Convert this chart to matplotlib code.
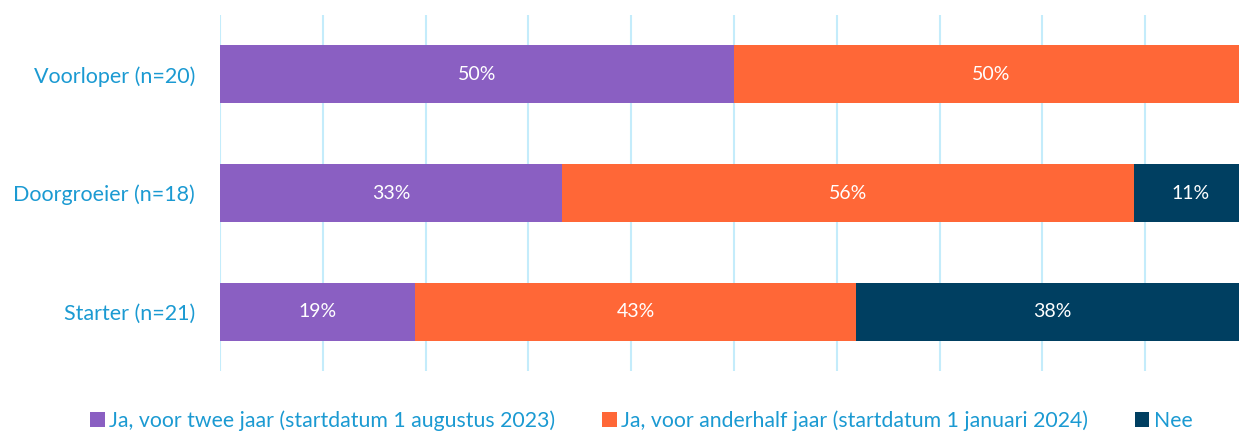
import matplotlib.pyplot as plt
import numpy as np

plt.rcParams['font.family'] = ['Lato', 'DejaVu Sans']

groups = ['Voorloper (n=20)', 'Doorgroeier (n=18)', 'Starter (n=21)']
series = ['Ja, voor twee jaar (startdatum 1 augustus 2023)',
          'Ja, voor anderhalf jaar (startdatum 1 januari 2024)',
          'Nee']
twee_jaar = [50.0, 33.3, 19.0]
anderhalf_jaar = [50.0, 55.6, 42.9]
nee = [0.0, 11.1, 38.1]

colors = ['#8a5fc2', '#ff6737', '#003f61']
text_blue = '#1b9ad2'

fig = plt.figure(figsize=(12.39, 4.32), dpi=100)
ax = fig.add_axes([220 / 1239, 61 / 432, 1028 / 1239, 356 / 432])

y = np.arange(len(groups))
left = np.zeros(len(groups))
for name, vals, col in zip(series, [twee_jaar, anderhalf_jaar, nee], colors):
    vals = np.array(vals)
    ax.barh(y, vals, left=left, height=0.49, color=col, label=name, zorder=3)
    for yi, l, v in zip(y, left, vals):
        if v > 0:
            ax.text(l + v / 2, yi, f'{v:.0f}%', ha='center', va='center',
                    color='white', fontsize=14, zorder=4)
    left += vals

ax.set_xlim(0, 100)
ax.set_ylim(2.5, -0.5)
ax.set_xticks(np.arange(0, 101, 10))
ax.xaxis.grid(True, color='#c4ecfb', linewidth=1.5, zorder=0)
ax.tick_params(axis='x', length=0, labelbottom=False)
ax.tick_params(axis='y', length=0, pad=18)
ax.set_yticks(y)
ax.set_yticklabels(groups, fontsize=15.5, color=text_blue)
for s in ax.spines.values():
    s.set_visible(False)

leg = fig.legend(loc='center', bbox_to_anchor=(641 / 1239, 11 / 432), ncol=3,
                 frameon=False, fontsize=15.3, handlelength=0.7, handleheight=0.7,
                 handletextpad=0.2, columnspacing=2.2)
for t in leg.get_texts():
    t.set_color(text_blue)

fig.savefig('out.png', dpi=100)
